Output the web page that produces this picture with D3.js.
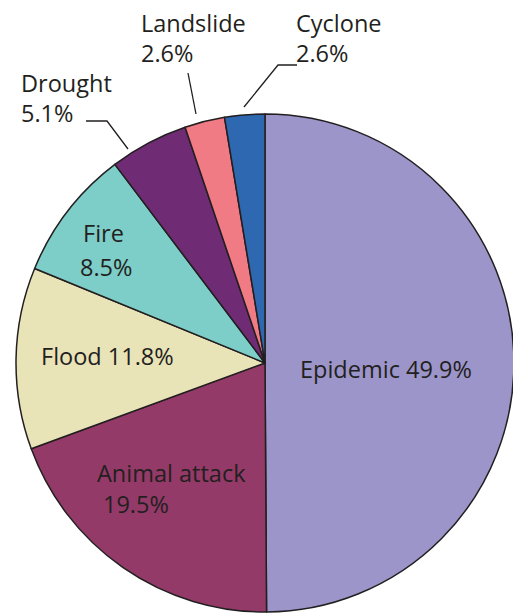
<!DOCTYPE html>
<html>
<head>
<meta charset="utf-8">
<script src="https://cdn.jsdelivr.net/npm/d3@7"></script>
<style>
  html, body { margin: 0; padding: 0; background: #fff; }
  svg { display: block; }
  text { font-family: "Open Sans", "Noto Sans", sans-serif; fill: #231f20; }
</style>
</head>
<body>
<svg id="chart" width="513" height="614"></svg>
<script>
// Causes and their shares (%)
const categories = ["Epidemic", "Animal attack", "Flood", "Fire", "Drought", "Landslide", "Cyclone"];
const shares = [49.9, 19.5, 11.8, 8.5, 5.1, 2.6, 2.6];
const colors = ["#9b95c9", "#933a68", "#e9e3b8", "#7dcdc8", "#6f2c74", "#f07b84", "#2d68b0"];

// Label text placement (lines, anchor x/y per line) and optional leader lines
const labelLayout = {
  "Epidemic":      { lines: [[300, 378, "Epidemic 49.9%"]] },
  "Animal attack": { lines: [[97, 482, "Animal attack"], [103, 513, "19.5%"]] },
  "Flood":         { lines: [[41, 365, "Flood 11.8%"]] },
  "Fire":          { lines: [[83, 242, "Fire"], [80, 276, "8.5%"]] },
  "Drought":       { lines: [[21, 92, "Drought"], [21, 122, "5.1%"]],
                     leader: [[86, 121], [107, 121], [128, 149]] },
  "Landslide":     { lines: [[141, 32, "Landslide"], [141, 62, "2.6%"]],
                     leader: [[188, 73], [196, 114]] },
  "Cyclone":       { lines: [[296, 32, "Cyclone"], [296, 62, "2.6%"]],
                     leader: [[297, 65], [278, 65], [244, 107]] }
};

const svg = d3.select("#chart");
const cx = 265, cy = 363, radius = 249;

const data = categories.map((c, i) => ({ name: c, value: shares[i], color: colors[i] }));

const pie = d3.pie().sort(null).value(d => d.value);
const arc = d3.arc().innerRadius(0).outerRadius(radius);

const g = svg.append("g").attr("transform", `translate(${cx},${cy})`);

g.selectAll("path.slice")
  .data(pie(data))
  .join("path")
  .attr("class", "slice")
  .attr("d", arc)
  .attr("fill", d => d.data.color)
  .attr("stroke", "#231f20")
  .attr("stroke-width", 1.5)
  .attr("stroke-linejoin", "round");

const line = d3.line();

data.forEach(d => {
  const lay = labelLayout[d.name];
  if (lay.leader) {
    svg.append("path")
      .attr("d", line(lay.leader))
      .attr("fill", "none")
      .attr("stroke", "#231f20")
      .attr("stroke-width", 1.3);
  }
  lay.lines.forEach(([x, y, t]) => {
    svg.append("text")
      .attr("x", x)
      .attr("y", y)
      .attr("font-size", 23.5)
      .attr("textLength", null)
      .text(t);
  });
});
</script>
</body>
</html>
